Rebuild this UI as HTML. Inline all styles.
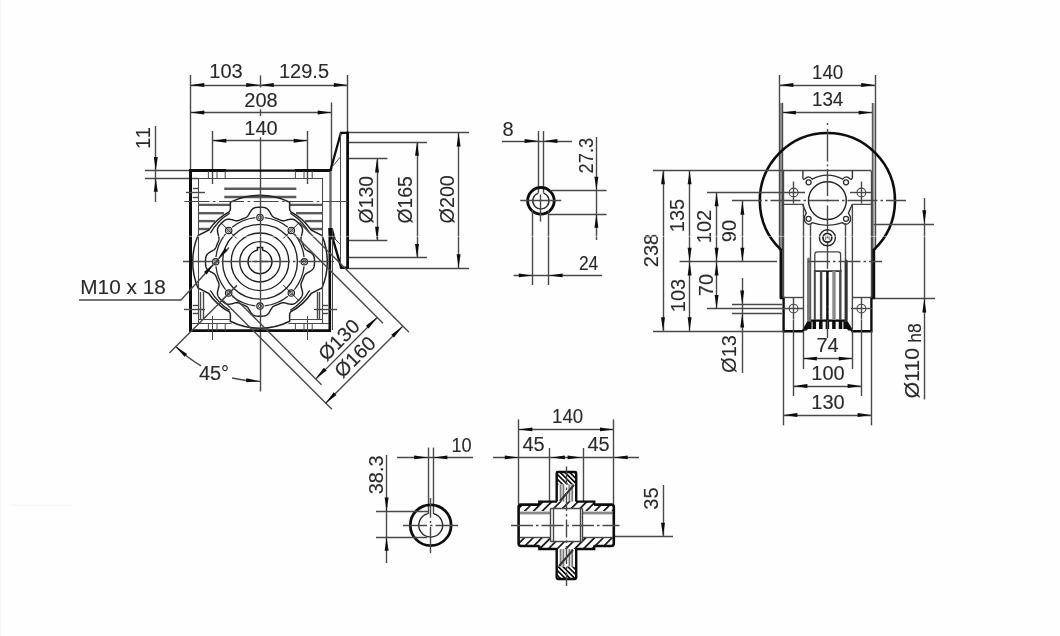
<!DOCTYPE html>
<html><head><meta charset="utf-8"><title>Drawing</title>
<style>
html,body{margin:0;padding:0;background:#fff;}
body{width:1060px;height:636px;overflow:hidden;}
svg{display:block;}
text{font-family:"Liberation Sans",sans-serif;}
</style></head><body>
<svg width="1060" height="636" viewBox="0 0 1060 636">
<defs><filter id="bl" x="0" y="0" width="1060" height="636" filterUnits="userSpaceOnUse"><feGaussianBlur stdDeviation="0.6"/></filter></defs>
<rect width="1060" height="636" fill="#fefefe"/><rect x="0" y="0" width="1" height="636" fill="#f4f4f4"/><rect x="11" y="504.6" width="61" height="1.6" fill="#f7f7f7"/>
<g filter="url(#bl)">
<g id="left">
<line x1="190.50" y1="75.00" x2="190.50" y2="171.00" stroke="#484848" stroke-width="1.4" />
<line x1="347.50" y1="75.00" x2="347.50" y2="133.00" stroke="#484848" stroke-width="1.4" />
<line x1="190.50" y1="85.50" x2="347.70" y2="85.50" stroke="#484848" stroke-width="1.4" />
<polygon points="190.50,85.00 204.30,83.05 204.30,86.95" fill="#0d0d0d"/>
<polygon points="260.00,85.00 246.20,86.95 246.20,83.05" fill="#0d0d0d"/>
<polygon points="260.00,85.00 273.80,83.05 273.80,86.95" fill="#0d0d0d"/>
<polygon points="347.70,85.00 333.90,86.95 333.90,83.05" fill="#0d0d0d"/>
<text transform="translate(226.00,78.30) rotate(0)" text-anchor="middle" font-size="20" fill="#2c2c2c" stroke="#2c2c2c" stroke-width="0.12" >103</text>
<text transform="translate(304.00,78.30) rotate(0)" text-anchor="middle" font-size="20" fill="#2c2c2c" stroke="#2c2c2c" stroke-width="0.12" >129.5</text>
<line x1="331.50" y1="102.50" x2="331.50" y2="171.00" stroke="#484848" stroke-width="1.4" />
<line x1="190.50" y1="112.50" x2="331.50" y2="112.50" stroke="#484848" stroke-width="1.4" />
<polygon points="190.50,112.50 204.30,110.55 204.30,114.45" fill="#0d0d0d"/>
<polygon points="331.50,112.50 317.70,114.45 317.70,110.55" fill="#0d0d0d"/>
<text transform="translate(261.00,106.70) rotate(0)" text-anchor="middle" font-size="20" fill="#2c2c2c" stroke="#2c2c2c" stroke-width="0.12" >208</text>
<line x1="212.50" y1="131.00" x2="212.50" y2="184.00" stroke="#484848" stroke-width="1.4" />
<line x1="307.50" y1="131.00" x2="307.50" y2="184.00" stroke="#484848" stroke-width="1.4" />
<line x1="212.50" y1="140.50" x2="307.50" y2="140.50" stroke="#484848" stroke-width="1.4" />
<polygon points="212.50,140.80 226.30,138.85 226.30,142.75" fill="#0d0d0d"/>
<polygon points="307.50,140.80 293.70,142.75 293.70,138.85" fill="#0d0d0d"/>
<text transform="translate(261.00,134.80) rotate(0)" text-anchor="middle" font-size="20" fill="#2c2c2c" stroke="#2c2c2c" stroke-width="0.12" >140</text>
<line x1="145.00" y1="170.50" x2="190.00" y2="170.50" stroke="#484848" stroke-width="1.4" />
<line x1="145.00" y1="178.50" x2="198.00" y2="178.50" stroke="#484848" stroke-width="1.4" />
<line x1="155.50" y1="126.00" x2="155.50" y2="202.00" stroke="#484848" stroke-width="1.4" />
<polygon points="155.80,170.80 153.85,157.00 157.75,157.00" fill="#0d0d0d"/>
<polygon points="155.80,178.00 157.75,191.80 153.85,191.80" fill="#0d0d0d"/>
<text transform="translate(149.60,137.40) rotate(-90)" text-anchor="middle" font-size="20" fill="#2c2c2c" stroke="#2c2c2c" stroke-width="0.12" letter-spacing="1.3">11</text>
<line x1="198.00" y1="204.90" x2="230.50" y2="204.90" stroke="#5a5a5a" stroke-width="2.4" />
<line x1="289.50" y1="204.90" x2="322.40" y2="204.90" stroke="#5a5a5a" stroke-width="2.4" />
<line x1="198.00" y1="213.20" x2="223.90" y2="213.20" stroke="#5a5a5a" stroke-width="2.4" />
<line x1="296.10" y1="213.20" x2="322.40" y2="213.20" stroke="#5a5a5a" stroke-width="2.4" />
<line x1="198.00" y1="221.10" x2="215.19" y2="221.10" stroke="#5a5a5a" stroke-width="2.4" />
<line x1="304.81" y1="221.10" x2="322.40" y2="221.10" stroke="#5a5a5a" stroke-width="2.4" />
<line x1="198.00" y1="229.00" x2="209.13" y2="229.00" stroke="#5a5a5a" stroke-width="2.4" />
<line x1="310.87" y1="229.00" x2="322.40" y2="229.00" stroke="#5a5a5a" stroke-width="2.4" />
<line x1="224.30" y1="188.70" x2="296.30" y2="188.70" stroke="#5a5a5a" stroke-width="2.5" />
<line x1="224.30" y1="196.90" x2="296.30" y2="196.90" stroke="#5a5a5a" stroke-width="2.5" />
<path d="M260.00,195.25 A66.5,66.5 0 0 0 230.30,202.25 L230.40,207.75 Q230.60,210.25 229.40,211.55 A59.5,59.5 0 0 0 208.60,230.25 L198.00,235.55 A67.3,67.3 0 0 0 192.70,261.75 M260.00,195.25 A66.5,66.5 0 0 1 289.70,202.25 L289.60,207.75 Q289.40,210.25 290.60,211.55 A59.5,59.5 0 0 1 311.40,230.25 L322.00,235.55 A67.3,67.3 0 0 1 327.30,261.75 M260.00,328.25 A66.5,66.5 0 0 1 230.30,321.25 L230.40,315.75 Q230.60,313.25 229.40,311.95 A59.5,59.5 0 0 1 208.60,293.25 L198.00,287.95 A67.3,67.3 0 0 1 192.70,261.75 M260.00,328.25 A66.5,66.5 0 0 0 289.70,321.25 L289.60,315.75 Q289.40,313.25 290.60,311.95 A59.5,59.5 0 0 0 311.40,293.25 L322.00,287.95 A67.3,67.3 0 0 0 327.30,261.75 " stroke="#222" stroke-width="1.5" fill="none" />
<path d="M229.64,213.16 A57.3,57.3 0 0 0 210.38,233.10 M290.36,213.16 A57.3,57.3 0 0 1 309.62,233.10 M229.64,310.34 A57.3,57.3 0 0 1 210.38,290.40 M290.36,310.34 A57.3,57.3 0 0 0 309.62,290.40 " stroke="#2a2a2a" stroke-width="1.3" fill="none" />
<path d="M260.00,207.25 L259.52,207.25 L259.05,207.26 L258.57,207.27 L258.10,207.29 L257.62,207.31 L257.15,207.35 L256.68,207.40 L256.20,207.47 L255.73,207.55 L255.27,207.66 L254.81,207.80 L254.35,207.97 L253.90,208.17 L253.45,208.42 L253.02,208.70 L252.59,209.03 L252.18,209.41 L251.78,209.83 L251.39,210.29 L251.01,210.79 L250.65,211.32 L250.31,211.88 L249.97,212.45 L249.64,213.03 L249.33,213.60 L249.01,214.16 L248.70,214.68 L248.39,215.18 L248.07,215.63 L247.75,216.03 L247.42,216.39 L247.08,216.71 L246.74,216.98 L246.38,217.22 L246.02,217.43 L245.66,217.61 L245.29,217.78 L244.91,217.94 L244.54,218.08 L244.16,218.23 L243.78,218.38 L243.41,218.52 L243.03,218.67 L242.66,218.82 L242.28,218.97 L241.91,219.13 L241.54,219.29 L241.17,219.45 L240.80,219.61 L240.43,219.78 L240.06,219.94 L239.69,220.10 L239.31,220.25 L238.93,220.40 L238.54,220.53 L238.14,220.63 L237.72,220.71 L237.28,220.77 L236.82,220.78 L236.33,220.76 L235.82,220.70 L235.28,220.61 L234.71,220.48 L234.12,220.33 L233.50,220.16 L232.87,219.98 L232.23,219.80 L231.59,219.63 L230.95,219.49 L230.32,219.36 L229.70,219.27 L229.10,219.22 L228.52,219.21 L227.96,219.24 L227.43,219.30 L226.92,219.41 L226.43,219.55 L225.97,219.73 L225.53,219.93 L225.10,220.16 L224.69,220.41 L224.30,220.68 L223.92,220.97 L223.55,221.27 L223.19,221.58 L222.83,221.90 L222.49,222.22 L222.14,222.55 L221.80,222.88 L221.46,223.21 L221.13,223.55 L220.80,223.89 L220.47,224.24 L220.15,224.58 L219.83,224.94 L219.52,225.30 L219.22,225.67 L218.93,226.05 L218.66,226.44 L218.41,226.85 L218.18,227.28 L217.98,227.72 L217.80,228.18 L217.66,228.67 L217.55,229.18 L217.49,229.71 L217.46,230.27 L217.47,230.85 L217.52,231.45 L217.61,232.07 L217.74,232.70 L217.88,233.34 L218.05,233.98 L218.23,234.62 L218.41,235.25 L218.58,235.87 L218.73,236.46 L218.86,237.03 L218.95,237.57 L219.01,238.08 L219.03,238.57 L219.02,239.03 L218.96,239.47 L218.88,239.89 L218.78,240.29 L218.65,240.68 L218.50,241.06 L218.35,241.44 L218.19,241.81 L218.03,242.18 L217.86,242.55 L217.70,242.92 L217.54,243.29 L217.38,243.66 L217.22,244.03 L217.07,244.41 L216.92,244.78 L216.77,245.16 L216.63,245.53 L216.48,245.91 L216.33,246.29 L216.19,246.66 L216.03,247.04 L215.86,247.41 L215.68,247.77 L215.47,248.13 L215.23,248.49 L214.96,248.83 L214.64,249.17 L214.28,249.50 L213.88,249.82 L213.43,250.14 L212.93,250.45 L212.41,250.76 L211.85,251.08 L211.28,251.39 L210.70,251.72 L210.13,252.06 L209.57,252.40 L209.04,252.76 L208.54,253.14 L208.08,253.53 L207.66,253.93 L207.28,254.34 L206.95,254.77 L206.67,255.20 L206.42,255.65 L206.22,256.10 L206.05,256.56 L205.91,257.02 L205.80,257.48 L205.72,257.95 L205.65,258.43 L205.60,258.90 L205.56,259.37 L205.54,259.85 L205.52,260.32 L205.51,260.80 L205.50,261.27 L205.50,261.75 L205.50,262.23 L205.51,262.70 L205.52,263.18 L205.54,263.65 L205.56,264.13 L205.60,264.60 L205.65,265.07 L205.72,265.55 L205.80,266.02 L205.91,266.48 L206.05,266.94 L206.22,267.40 L206.42,267.85 L206.67,268.30 L206.95,268.73 L207.28,269.16 L207.66,269.57 L208.08,269.97 L208.54,270.36 L209.04,270.74 L209.57,271.10 L210.13,271.44 L210.70,271.78 L211.28,272.11 L211.85,272.42 L212.41,272.74 L212.93,273.05 L213.43,273.36 L213.88,273.68 L214.28,274.00 L214.64,274.33 L214.96,274.67 L215.23,275.01 L215.47,275.37 L215.68,275.73 L215.86,276.09 L216.03,276.46 L216.19,276.84 L216.33,277.21 L216.48,277.59 L216.63,277.97 L216.77,278.34 L216.92,278.72 L217.07,279.09 L217.22,279.47 L217.38,279.84 L217.54,280.21 L217.70,280.58 L217.86,280.95 L218.03,281.32 L218.19,281.69 L218.35,282.06 L218.50,282.44 L218.65,282.82 L218.78,283.21 L218.88,283.61 L218.96,284.03 L219.02,284.47 L219.03,284.93 L219.01,285.42 L218.95,285.93 L218.86,286.47 L218.73,287.04 L218.58,287.63 L218.41,288.25 L218.23,288.88 L218.05,289.52 L217.88,290.16 L217.74,290.80 L217.61,291.43 L217.52,292.05 L217.47,292.65 L217.46,293.23 L217.49,293.79 L217.55,294.32 L217.66,294.83 L217.80,295.32 L217.98,295.78 L218.18,296.22 L218.41,296.65 L218.66,297.06 L218.93,297.45 L219.22,297.83 L219.52,298.20 L219.83,298.56 L220.15,298.92 L220.47,299.26 L220.80,299.61 L221.13,299.95 L221.46,300.29 L221.80,300.62 L222.14,300.95 L222.49,301.28 L222.83,301.60 L223.19,301.92 L223.55,302.23 L223.92,302.53 L224.30,302.82 L224.69,303.09 L225.10,303.34 L225.53,303.57 L225.97,303.77 L226.43,303.95 L226.92,304.09 L227.43,304.20 L227.96,304.26 L228.52,304.29 L229.10,304.28 L229.70,304.23 L230.32,304.14 L230.95,304.01 L231.59,303.87 L232.23,303.70 L232.87,303.52 L233.50,303.34 L234.12,303.17 L234.71,303.02 L235.28,302.89 L235.82,302.80 L236.33,302.74 L236.82,302.72 L237.28,302.73 L237.72,302.79 L238.14,302.87 L238.54,302.97 L238.93,303.10 L239.31,303.25 L239.69,303.40 L240.06,303.56 L240.43,303.72 L240.80,303.89 L241.17,304.05 L241.54,304.21 L241.91,304.37 L242.28,304.53 L242.66,304.68 L243.03,304.83 L243.41,304.98 L243.78,305.12 L244.16,305.27 L244.54,305.42 L244.91,305.56 L245.29,305.72 L245.66,305.89 L246.02,306.07 L246.38,306.28 L246.74,306.52 L247.08,306.79 L247.42,307.11 L247.75,307.47 L248.07,307.87 L248.39,308.32 L248.70,308.82 L249.01,309.34 L249.33,309.90 L249.64,310.47 L249.97,311.05 L250.31,311.62 L250.65,312.18 L251.01,312.71 L251.39,313.21 L251.78,313.67 L252.18,314.09 L252.59,314.47 L253.02,314.80 L253.45,315.08 L253.90,315.33 L254.35,315.53 L254.81,315.70 L255.27,315.84 L255.73,315.95 L256.20,316.03 L256.68,316.10 L257.15,316.15 L257.62,316.19 L258.10,316.21 L258.57,316.23 L259.05,316.24 L259.52,316.25 L260.00,316.25 L260.48,316.25 L260.95,316.24 L261.43,316.23 L261.90,316.21 L262.38,316.19 L262.85,316.15 L263.32,316.10 L263.80,316.03 L264.27,315.95 L264.73,315.84 L265.19,315.70 L265.65,315.53 L266.10,315.33 L266.55,315.08 L266.98,314.80 L267.41,314.47 L267.82,314.09 L268.22,313.67 L268.61,313.21 L268.99,312.71 L269.35,312.18 L269.69,311.62 L270.03,311.05 L270.36,310.47 L270.67,309.90 L270.99,309.34 L271.30,308.82 L271.61,308.32 L271.93,307.87 L272.25,307.47 L272.58,307.11 L272.92,306.79 L273.26,306.52 L273.62,306.28 L273.98,306.07 L274.34,305.89 L274.71,305.72 L275.09,305.56 L275.46,305.42 L275.84,305.27 L276.22,305.12 L276.59,304.98 L276.97,304.83 L277.34,304.68 L277.72,304.53 L278.09,304.37 L278.46,304.21 L278.83,304.05 L279.20,303.89 L279.57,303.72 L279.94,303.56 L280.31,303.40 L280.69,303.25 L281.07,303.10 L281.46,302.97 L281.86,302.87 L282.28,302.79 L282.72,302.73 L283.18,302.72 L283.67,302.74 L284.18,302.80 L284.72,302.89 L285.29,303.02 L285.88,303.17 L286.50,303.34 L287.13,303.52 L287.77,303.70 L288.41,303.87 L289.05,304.01 L289.68,304.14 L290.30,304.23 L290.90,304.28 L291.48,304.29 L292.04,304.26 L292.57,304.20 L293.08,304.09 L293.57,303.95 L294.03,303.77 L294.47,303.57 L294.90,303.34 L295.31,303.09 L295.70,302.82 L296.08,302.53 L296.45,302.23 L296.81,301.92 L297.17,301.60 L297.51,301.28 L297.86,300.95 L298.20,300.62 L298.54,300.29 L298.87,299.95 L299.20,299.61 L299.53,299.26 L299.85,298.92 L300.17,298.56 L300.48,298.20 L300.78,297.83 L301.07,297.45 L301.34,297.06 L301.59,296.65 L301.82,296.22 L302.02,295.78 L302.20,295.32 L302.34,294.83 L302.45,294.32 L302.51,293.79 L302.54,293.23 L302.53,292.65 L302.48,292.05 L302.39,291.43 L302.26,290.80 L302.12,290.16 L301.95,289.52 L301.77,288.88 L301.59,288.25 L301.42,287.63 L301.27,287.04 L301.14,286.47 L301.05,285.93 L300.99,285.42 L300.97,284.93 L300.98,284.47 L301.04,284.03 L301.12,283.61 L301.22,283.21 L301.35,282.82 L301.50,282.44 L301.65,282.06 L301.81,281.69 L301.97,281.32 L302.14,280.95 L302.30,280.58 L302.46,280.21 L302.62,279.84 L302.78,279.47 L302.93,279.09 L303.08,278.72 L303.23,278.34 L303.37,277.97 L303.52,277.59 L303.67,277.21 L303.81,276.84 L303.97,276.46 L304.14,276.09 L304.32,275.73 L304.53,275.37 L304.77,275.01 L305.04,274.67 L305.36,274.33 L305.72,274.00 L306.12,273.68 L306.57,273.36 L307.07,273.05 L307.59,272.74 L308.15,272.42 L308.72,272.11 L309.30,271.78 L309.87,271.44 L310.43,271.10 L310.96,270.74 L311.46,270.36 L311.92,269.97 L312.34,269.57 L312.72,269.16 L313.05,268.73 L313.33,268.30 L313.58,267.85 L313.78,267.40 L313.95,266.94 L314.09,266.48 L314.20,266.02 L314.28,265.55 L314.35,265.07 L314.40,264.60 L314.44,264.13 L314.46,263.65 L314.48,263.18 L314.49,262.70 L314.50,262.23 L314.50,261.75 L314.50,261.27 L314.49,260.80 L314.48,260.32 L314.46,259.85 L314.44,259.37 L314.40,258.90 L314.35,258.43 L314.28,257.95 L314.20,257.48 L314.09,257.02 L313.95,256.56 L313.78,256.10 L313.58,255.65 L313.33,255.20 L313.05,254.77 L312.72,254.34 L312.34,253.93 L311.92,253.53 L311.46,253.14 L310.96,252.76 L310.43,252.40 L309.87,252.06 L309.30,251.72 L308.72,251.39 L308.15,251.08 L307.59,250.76 L307.07,250.45 L306.57,250.14 L306.12,249.82 L305.72,249.50 L305.36,249.17 L305.04,248.83 L304.77,248.49 L304.53,248.13 L304.32,247.77 L304.14,247.41 L303.97,247.04 L303.81,246.66 L303.67,246.29 L303.52,245.91 L303.37,245.53 L303.23,245.16 L303.08,244.78 L302.93,244.41 L302.78,244.03 L302.62,243.66 L302.46,243.29 L302.30,242.92 L302.14,242.55 L301.97,242.18 L301.81,241.81 L301.65,241.44 L301.50,241.06 L301.35,240.68 L301.22,240.29 L301.12,239.89 L301.04,239.47 L300.98,239.03 L300.97,238.57 L300.99,238.08 L301.05,237.57 L301.14,237.03 L301.27,236.46 L301.42,235.87 L301.59,235.25 L301.77,234.62 L301.95,233.98 L302.12,233.34 L302.26,232.70 L302.39,232.07 L302.48,231.45 L302.53,230.85 L302.54,230.27 L302.51,229.71 L302.45,229.18 L302.34,228.67 L302.20,228.18 L302.02,227.72 L301.82,227.28 L301.59,226.85 L301.34,226.44 L301.07,226.05 L300.78,225.67 L300.48,225.30 L300.17,224.94 L299.85,224.58 L299.53,224.24 L299.20,223.89 L298.87,223.55 L298.54,223.21 L298.20,222.88 L297.86,222.55 L297.51,222.22 L297.17,221.90 L296.81,221.58 L296.45,221.27 L296.08,220.97 L295.70,220.68 L295.31,220.41 L294.90,220.16 L294.47,219.93 L294.03,219.73 L293.57,219.55 L293.08,219.41 L292.57,219.30 L292.04,219.24 L291.48,219.21 L290.90,219.22 L290.30,219.27 L289.68,219.36 L289.05,219.49 L288.41,219.63 L287.77,219.80 L287.13,219.98 L286.50,220.16 L285.88,220.33 L285.29,220.48 L284.72,220.61 L284.18,220.70 L283.67,220.76 L283.18,220.78 L282.72,220.77 L282.28,220.71 L281.86,220.63 L281.46,220.53 L281.07,220.40 L280.69,220.25 L280.31,220.10 L279.94,219.94 L279.57,219.78 L279.20,219.61 L278.83,219.45 L278.46,219.29 L278.09,219.13 L277.72,218.97 L277.34,218.82 L276.97,218.67 L276.59,218.52 L276.22,218.38 L275.84,218.23 L275.46,218.08 L275.09,217.94 L274.71,217.78 L274.34,217.61 L273.98,217.43 L273.62,217.22 L273.26,216.98 L272.92,216.71 L272.58,216.39 L272.25,216.03 L271.93,215.63 L271.61,215.18 L271.30,214.68 L270.99,214.16 L270.67,213.60 L270.36,213.03 L270.03,212.45 L269.69,211.88 L269.35,211.32 L268.99,210.79 L268.61,210.29 L268.22,209.83 L267.82,209.41 L267.41,209.03 L266.98,208.70 L266.55,208.42 L266.10,208.17 L265.65,207.97 L265.19,207.80 L264.73,207.66 L264.27,207.55 L263.80,207.47 L263.32,207.40 L262.85,207.35 L262.38,207.31 L261.90,207.29 L261.43,207.27 L260.95,207.26 L260.48,207.25 L260.00,207.25Z" stroke="#222" stroke-width="1.45" fill="none" />
<circle cx="260.00" cy="261.75" r="37.40" stroke="#222" stroke-width="1.35" fill="none" />
<circle cx="260.00" cy="261.75" r="28.80" stroke="#222" stroke-width="1.35" fill="none" />
<circle cx="260.00" cy="261.75" r="20.20" stroke="#222" stroke-width="1.35" fill="none" />
<path d="M255.37,217.69 A44.3,44.3 0 0 0 232.12,227.32" stroke="#2a2a2a" stroke-width="1.25" fill="none" />
<path d="M225.57,233.87 A44.3,44.3 0 0 0 215.94,257.12" stroke="#2a2a2a" stroke-width="1.25" fill="none" />
<path d="M215.94,266.38 A44.3,44.3 0 0 0 225.57,289.63" stroke="#2a2a2a" stroke-width="1.25" fill="none" />
<path d="M232.12,296.18 A44.3,44.3 0 0 0 255.37,305.81" stroke="#2a2a2a" stroke-width="1.25" fill="none" />
<path d="M264.63,305.81 A44.3,44.3 0 0 0 287.88,296.18" stroke="#2a2a2a" stroke-width="1.25" fill="none" />
<path d="M294.43,289.63 A44.3,44.3 0 0 0 304.06,266.38" stroke="#2a2a2a" stroke-width="1.25" fill="none" />
<path d="M304.06,257.12 A44.3,44.3 0 0 0 294.43,233.87" stroke="#2a2a2a" stroke-width="1.25" fill="none" />
<path d="M287.88,227.32 A44.3,44.3 0 0 0 264.63,217.69" stroke="#2a2a2a" stroke-width="1.25" fill="none" />
<path d="M262.60,250.14 A11.9,11.9 0 1 1 257.40,250.14 V247.45 H262.60 Z" stroke="#1a1a1a" stroke-width="1.5" fill="none" />
<circle cx="260.00" cy="217.45" r="3.20" stroke="#222" stroke-width="1.2" fill="#fff" />
<circle cx="260.00" cy="217.45" r="1.70" stroke="#333" stroke-width="0.9" fill="none" />
<circle cx="228.68" cy="230.43" r="3.20" stroke="#222" stroke-width="1.2" fill="#fff" />
<circle cx="228.68" cy="230.43" r="1.70" stroke="#333" stroke-width="0.9" fill="none" />
<line x1="220.76" y1="222.51" x2="236.67" y2="238.42" stroke="#222" stroke-width="1.0" />
<circle cx="215.70" cy="261.75" r="3.20" stroke="#222" stroke-width="1.2" fill="#fff" />
<circle cx="215.70" cy="261.75" r="1.70" stroke="#333" stroke-width="0.9" fill="none" />
<circle cx="228.68" cy="293.07" r="3.20" stroke="#222" stroke-width="1.2" fill="#fff" />
<circle cx="228.68" cy="293.07" r="1.70" stroke="#333" stroke-width="0.9" fill="none" />
<line x1="220.76" y1="300.99" x2="236.67" y2="285.08" stroke="#222" stroke-width="1.0" />
<circle cx="260.00" cy="306.05" r="3.20" stroke="#222" stroke-width="1.2" fill="#fff" />
<circle cx="260.00" cy="306.05" r="1.70" stroke="#333" stroke-width="0.9" fill="none" />
<circle cx="291.32" cy="293.07" r="3.20" stroke="#222" stroke-width="1.2" fill="#fff" />
<circle cx="291.32" cy="293.07" r="1.70" stroke="#333" stroke-width="0.9" fill="none" />
<line x1="299.24" y1="300.99" x2="283.33" y2="285.08" stroke="#222" stroke-width="1.0" />
<circle cx="304.30" cy="261.75" r="3.20" stroke="#222" stroke-width="1.2" fill="#fff" />
<circle cx="304.30" cy="261.75" r="1.70" stroke="#333" stroke-width="0.9" fill="none" />
<circle cx="291.32" cy="230.43" r="3.20" stroke="#222" stroke-width="1.2" fill="#fff" />
<circle cx="291.32" cy="230.43" r="1.70" stroke="#333" stroke-width="0.9" fill="none" />
<line x1="299.24" y1="222.51" x2="283.33" y2="238.42" stroke="#222" stroke-width="1.0" />
<line x1="260.50" y1="75.40" x2="260.50" y2="87.50" stroke="#484848" stroke-width="1.4" />
<line x1="260.50" y1="109.30" x2="260.50" y2="116.00" stroke="#484848" stroke-width="1.4" />
<line x1="260.50" y1="137.30" x2="260.50" y2="391.50" stroke="#484848" stroke-width="1.4" />
<line x1="183.00" y1="261.50" x2="337.00" y2="261.50" stroke="#484848" stroke-width="1.4" stroke-dasharray="30 3 2.5 3"/>
<line x1="252.00" y1="261.50" x2="268.00" y2="261.50" stroke="#484848" stroke-width="1.4" />
<line x1="260.50" y1="252.75" x2="260.50" y2="270.75" stroke="#484848" stroke-width="1.4" />
<path d="M190.5,331.6 V170.6 H226" stroke="#0d0d0d" stroke-width="3.0" fill="none" stroke-linejoin="miter"/>
<path d="M225,170.6 H330.4 L340.9,132.8 H348.6" stroke="#0d0d0d" stroke-width="2.3" fill="none" stroke-linejoin="miter"/>
<path d="M295,170.4 H330" stroke="#0d0d0d" stroke-width="3.0" fill="none" />
<path d="M347.6,131.7 V269" stroke="#0d0d0d" stroke-width="2.8" fill="none" />
<path d="M189.2,330.6 H329.8 V228" stroke="#0d0d0d" stroke-width="2.6" fill="none" />
<path d="M330.5,171.5 V229" stroke="#6a6a6a" stroke-width="2.4" fill="none" />
<path d="M330,229 L341.2,267.8 H349" stroke="#0d0d0d" stroke-width="2.4" fill="none" />
<path d="M328.3,228 L332.8,228 L335.8,239.5 L329.3,239.5 Z" stroke="#484848" stroke-width="0" fill="#0d0d0d" />
<line x1="340.50" y1="133.00" x2="340.50" y2="264.00" stroke="#484848" stroke-width="1" />
<line x1="340.20" y1="157.20" x2="331.60" y2="167.50" stroke="#484848" stroke-width="1" />
<line x1="332.80" y1="236.60" x2="340.20" y2="244.40" stroke="#484848" stroke-width="1" />
<line x1="332.50" y1="228.00" x2="332.50" y2="330.00" stroke="#484848" stroke-width="1" />
<path d="M198.5,323.5 V178.5 H322.5 V323.5" stroke="#484848" stroke-width="1.1" fill="none" />
<line x1="192.00" y1="323.50" x2="231.50" y2="323.50" stroke="#484848" stroke-width="1" />
<line x1="288.50" y1="323.50" x2="329.00" y2="323.50" stroke="#484848" stroke-width="1" />
<line x1="198.00" y1="319.50" x2="230.50" y2="319.50" stroke="#484848" stroke-width="1" />
<line x1="289.50" y1="319.50" x2="322.40" y2="319.50" stroke="#484848" stroke-width="1" />
<path d="M208.4,171 V178 M225.20000000000002,171 V178 M217.0,171 V178" stroke="#484848" stroke-width="1" fill="none" />
<path d="M208.4,331 V323.5 M225.20000000000002,331 V323.5 M217.0,331 V323.5" stroke="#484848" stroke-width="1" fill="none" />
<line x1="212.50" y1="316.00" x2="212.50" y2="340.00" stroke="#484848" stroke-width="1" />
<path d="M295.4,171 V178 M312.2,171 V178 M304.0,171 V178" stroke="#484848" stroke-width="1" fill="none" />
<path d="M295.4,331 V323.5 M312.2,331 V323.5 M304.0,331 V323.5" stroke="#484848" stroke-width="1" fill="none" />
<line x1="307.50" y1="316.00" x2="307.50" y2="340.00" stroke="#484848" stroke-width="1" />
<line x1="192.80" y1="188.50" x2="198.00" y2="188.50" stroke="#484848" stroke-width="1.4" />
<line x1="192.80" y1="197.50" x2="198.00" y2="197.50" stroke="#484848" stroke-width="1.4" />
<line x1="186.00" y1="192.50" x2="205.00" y2="192.50" stroke="#484848" stroke-width="1.4" />
<line x1="192.80" y1="305.50" x2="198.00" y2="305.50" stroke="#484848" stroke-width="1.4" />
<line x1="192.80" y1="313.50" x2="198.00" y2="313.50" stroke="#484848" stroke-width="1.4" />
<line x1="184.00" y1="309.50" x2="205.00" y2="309.50" stroke="#484848" stroke-width="1.4" />
<line x1="322.40" y1="305.50" x2="328.00" y2="305.50" stroke="#484848" stroke-width="1.4" />
<line x1="322.40" y1="313.50" x2="328.00" y2="313.50" stroke="#484848" stroke-width="1.4" />
<line x1="314.00" y1="309.50" x2="337.00" y2="309.50" stroke="#484848" stroke-width="1.4" />
<line x1="200.50" y1="292.00" x2="200.50" y2="320.00" stroke="#484848" stroke-width="1.4" />
<line x1="203.50" y1="292.00" x2="203.50" y2="320.00" stroke="#484848" stroke-width="1.4" />
<line x1="319.50" y1="292.00" x2="319.50" y2="320.00" stroke="#484848" stroke-width="1.4" />
<line x1="317.50" y1="292.00" x2="317.50" y2="320.00" stroke="#484848" stroke-width="1.4" />
<line x1="184.40" y1="201.50" x2="349.00" y2="201.50" stroke="#484848" stroke-width="1" stroke-dasharray="25 3.5 2.6 3.5"/>
<line x1="349.00" y1="132.50" x2="469.00" y2="132.50" stroke="#484848" stroke-width="1.4" />
<line x1="349.00" y1="268.50" x2="469.00" y2="268.50" stroke="#484848" stroke-width="1.4" />
<line x1="458.50" y1="132.70" x2="458.50" y2="268.00" stroke="#484848" stroke-width="1.4" />
<polygon points="458.60,132.70 460.55,146.50 456.65,146.50" fill="#0d0d0d"/>
<polygon points="458.60,268.00 456.65,254.20 460.55,254.20" fill="#0d0d0d"/>
<line x1="349.00" y1="142.50" x2="427.00" y2="142.50" stroke="#484848" stroke-width="1.4" />
<line x1="349.00" y1="257.50" x2="427.00" y2="257.50" stroke="#484848" stroke-width="1.4" />
<line x1="417.50" y1="142.00" x2="417.50" y2="257.80" stroke="#484848" stroke-width="1.4" />
<polygon points="417.00,142.00 418.95,155.80 415.05,155.80" fill="#0d0d0d"/>
<polygon points="417.00,257.80 415.05,244.00 418.95,244.00" fill="#0d0d0d"/>
<line x1="349.00" y1="158.50" x2="387.40" y2="158.50" stroke="#484848" stroke-width="1.4" />
<line x1="349.00" y1="240.50" x2="387.40" y2="240.50" stroke="#484848" stroke-width="1.4" />
<line x1="377.50" y1="158.60" x2="377.50" y2="240.60" stroke="#484848" stroke-width="1.4" />
<polygon points="377.00,158.60 378.95,172.40 375.05,172.40" fill="#0d0d0d"/>
<polygon points="377.00,240.60 375.05,226.80 378.95,226.80" fill="#0d0d0d"/>
<text transform="translate(373.30,199.60) rotate(-90)" text-anchor="middle" font-size="20" fill="#2c2c2c" stroke="#2c2c2c" stroke-width="0.12" textLength="47.6" lengthAdjust="spacingAndGlyphs" >Ø130</text>
<text transform="translate(411.80,199.90) rotate(-90)" text-anchor="middle" font-size="20" fill="#2c2c2c" stroke="#2c2c2c" stroke-width="0.12" textLength="47.2" lengthAdjust="spacingAndGlyphs" >Ø165</text>
<text transform="translate(454.00,199.30) rotate(-90)" text-anchor="middle" font-size="20" fill="#2c2c2c" stroke="#2c2c2c" stroke-width="0.12" textLength="48.2" lengthAdjust="spacingAndGlyphs" >Ø200</text>
<g transform="translate(260.0,261.75) rotate(-45)">
<line x1="43.50" y1="4.00" x2="43.50" y2="130.50" stroke="#484848" stroke-width="1.4" />
<line x1="55.50" y1="0.50" x2="55.50" y2="155.20" stroke="#484848" stroke-width="1.4" />
<line x1="-43.50" y1="4.00" x2="-43.50" y2="130.50" stroke="#484848" stroke-width="1.4" />
<line x1="-53.50" y1="1.20" x2="-53.50" y2="155.20" stroke="#484848" stroke-width="1.4" />
<line x1="-43.50" y1="122.50" x2="43.50" y2="122.50" stroke="#484848" stroke-width="1.4" />
<polygon points="-43.50,122.00 -29.70,120.05 -29.70,123.95" fill="#0d0d0d"/>
<polygon points="43.50,122.00 29.70,123.95 29.70,120.05" fill="#0d0d0d"/>
<line x1="-54.00" y1="146.50" x2="55.00" y2="146.50" stroke="#484848" stroke-width="1.4" />
<polygon points="-54.00,146.40 -40.20,144.45 -40.20,148.35" fill="#0d0d0d"/>
<polygon points="55.00,146.40 41.20,148.35 41.20,144.45" fill="#0d0d0d"/>
<text transform="translate(0.60,117.90) rotate(0)" text-anchor="middle" font-size="20" fill="#2c2c2c" stroke="#2c2c2c" stroke-width="0.12" >Ø130</text>
<text transform="translate(-0.20,141.30) rotate(0)" text-anchor="middle" font-size="20" fill="#2c2c2c" stroke="#2c2c2c" stroke-width="0.12" >Ø160</text>
<line x1="-33.00" y1="0.50" x2="-128.70" y2="0.50" stroke="#484848" stroke-width="1.4" />
</g>
<path d="M175.43,346.32 A119.6,119.6 0 0 0 201.11,365.84" stroke="#484848" stroke-width="1.4" fill="none" />
<path d="M232.08,378.05 A119.6,119.6 0 0 0 260.00,381.35" stroke="#484848" stroke-width="1.4" fill="none" />
<polygon points="175.43,346.32 187.12,353.90 184.57,356.85" fill="#0d0d0d"/>
<polygon points="260.00,381.35 246.09,382.21 246.40,378.32" fill="#0d0d0d"/>
<text transform="translate(214.00,380.00) rotate(0)" text-anchor="middle" font-size="20" fill="#2c2c2c" stroke="#2c2c2c" stroke-width="0.12" >45°</text>
<text transform="translate(123.00,293.60) rotate(0)" text-anchor="middle" font-size="20" fill="#2c2c2c" stroke="#2c2c2c" stroke-width="0.12" textLength="85.5" lengthAdjust="spacingAndGlyphs" >M10 x 18</text>
<path d="M79,300 H181 L229,247.5" stroke="#484848" stroke-width="1.4" fill="none" />
<polygon points="218.00,258.70 224.88,248.11 227.59,250.48" fill="#0d0d0d"/>
<polygon points="213.60,263.90 206.72,274.49 204.01,272.12" fill="#0d0d0d"/>
</g>
<g id="key1">
<line x1="538.50" y1="131.00" x2="538.50" y2="192.80" stroke="#484848" stroke-width="1.4" />
<line x1="543.50" y1="131.00" x2="543.50" y2="192.80" stroke="#484848" stroke-width="1.4" />
<line x1="502.00" y1="141.50" x2="572.00" y2="141.50" stroke="#484848" stroke-width="1.4" />
<polygon points="538.40,141.00 524.60,142.95 524.60,139.05" fill="#0d0d0d"/>
<polygon points="543.60,141.00 557.40,139.05 557.40,142.95" fill="#0d0d0d"/>
<text transform="translate(508.00,136.00) rotate(0)" text-anchor="middle" font-size="20" fill="#2c2c2c" stroke="#2c2c2c" stroke-width="0.12" >8</text>
<circle cx="540.90" cy="200.80" r="13.30" stroke="#0d0d0d" stroke-width="2.8" fill="none" />
<path d="M543.55,193.15 A8.1,8.1 0 1 1 538.25,193.15" stroke="#2a2a2a" stroke-width="1.4" fill="none" />
<line x1="520.30" y1="200.50" x2="561.20" y2="200.50" stroke="#484848" stroke-width="1.4" />
<line x1="540.50" y1="194.50" x2="540.50" y2="221.60" stroke="#484848" stroke-width="1.4" />
<line x1="550.00" y1="190.50" x2="606.60" y2="190.50" stroke="#484848" stroke-width="1.4" />
<line x1="549.00" y1="214.50" x2="606.60" y2="214.50" stroke="#484848" stroke-width="1.4" />
<line x1="596.50" y1="137.00" x2="596.50" y2="240.00" stroke="#484848" stroke-width="1.4" />
<polygon points="596.40,190.60 594.45,176.80 598.35,176.80" fill="#0d0d0d"/>
<polygon points="596.40,214.00 598.35,227.80 594.45,227.80" fill="#0d0d0d"/>
<text transform="translate(593.00,155.60) rotate(-90)" text-anchor="middle" font-size="20" fill="#2c2c2c" stroke="#2c2c2c" stroke-width="0.12" textLength="35.6" lengthAdjust="spacingAndGlyphs" >27.3</text>
<line x1="532.50" y1="210.00" x2="532.50" y2="285.00" stroke="#484848" stroke-width="1.4" />
<line x1="548.50" y1="210.00" x2="548.50" y2="285.00" stroke="#484848" stroke-width="1.4" />
<line x1="513.60" y1="275.50" x2="602.00" y2="275.50" stroke="#484848" stroke-width="1.4" />
<polygon points="532.60,275.40 518.80,277.35 518.80,273.45" fill="#0d0d0d"/>
<polygon points="548.80,275.40 562.60,273.45 562.60,277.35" fill="#0d0d0d"/>
<text transform="translate(588.60,270.00) rotate(0)" text-anchor="middle" font-size="20" fill="#2c2c2c" stroke="#2c2c2c" stroke-width="0.12" textLength="19.4" lengthAdjust="spacingAndGlyphs" >24</text>
</g>
<g id="right">
<line x1="779.50" y1="75.00" x2="779.50" y2="250.00" stroke="#484848" stroke-width="1.4" />
<line x1="875.50" y1="75.00" x2="875.50" y2="250.00" stroke="#484848" stroke-width="1.4" />
<line x1="779.60" y1="85.50" x2="875.00" y2="85.50" stroke="#484848" stroke-width="1.4" />
<polygon points="779.60,85.00 793.40,83.05 793.40,86.95" fill="#0d0d0d"/>
<polygon points="875.00,85.00 861.20,86.95 861.20,83.05" fill="#0d0d0d"/>
<text transform="translate(827.60,78.60) rotate(0)" text-anchor="middle" font-size="20" fill="#2c2c2c" stroke="#2c2c2c" stroke-width="0.12" textLength="31.4" lengthAdjust="spacingAndGlyphs" >140</text>
<line x1="782.50" y1="103.00" x2="782.50" y2="250.00" stroke="#484848" stroke-width="1.4" />
<line x1="872.50" y1="103.00" x2="872.50" y2="250.00" stroke="#484848" stroke-width="1.4" />
<line x1="782.00" y1="112.50" x2="872.40" y2="112.50" stroke="#484848" stroke-width="1.4" />
<polygon points="782.00,112.60 795.80,110.65 795.80,114.55" fill="#0d0d0d"/>
<polygon points="872.40,112.60 858.60,114.55 858.60,110.65" fill="#0d0d0d"/>
<text transform="translate(827.60,106.00) rotate(0)" text-anchor="middle" font-size="20" fill="#2c2c2c" stroke="#2c2c2c" stroke-width="0.12" textLength="31.4" lengthAdjust="spacingAndGlyphs" >134</text>
<line x1="781.00" y1="103.00" x2="781.00" y2="250.00" stroke="#8a8a8a" stroke-width="2.0" />
<line x1="873.70" y1="103.00" x2="873.70" y2="250.00" stroke="#9a9a9a" stroke-width="1.8" />
<path d="M781.10,249.86 A67.6,67.6 0 1 1 873.70,249.86" stroke="#0d0d0d" stroke-width="2.6" fill="none" />
<path d="M781.10,249.36 V298 H783.6 V331.3 H802.6 L809.4,320.4 M845.6,320.4 L852.4,331.3 H871.4 V298 H873.70 V249.36" stroke="#0d0d0d" stroke-width="2.4" fill="none" stroke-linejoin="miter"/>
<path d="M781.10,249.06 V298.5 M873.70,249.06 V298.5" stroke="#0d0d0d" stroke-width="3.0" fill="none" />
<rect x="812.55" y="320" width="3.5" height="9" fill="#0d0d0d"/>
<rect x="819.05" y="320" width="3.5" height="9" fill="#0d0d0d"/>
<rect x="825.65" y="320" width="3.5" height="9" fill="#0d0d0d"/>
<rect x="832.15" y="320" width="3.5" height="9" fill="#0d0d0d"/>
<rect x="838.75" y="320" width="3.5" height="9" fill="#0d0d0d"/>
<polygon points="803.4,330.6 809.6,320 811.6,320 811.6,329 808,329 806.5,330.6" fill="#0d0d0d"/>
<polygon points="851.6,330.6 845.4,320 843.4,320 843.4,329 847,329 848.5,330.6" fill="#0d0d0d"/>
<line x1="809.20" y1="320.60" x2="845.80" y2="320.60" stroke="#0d0d0d" stroke-width="2.2" />
<line x1="653.00" y1="170.50" x2="871.00" y2="170.50" stroke="#484848" stroke-width="1.4" />
<line x1="783.50" y1="170.40" x2="783.50" y2="298.00" stroke="#484848" stroke-width="1.4" />
<line x1="871.50" y1="170.40" x2="871.50" y2="298.00" stroke="#484848" stroke-width="1.4" />
<path d="M802.9,170.5 V177.6 Q802.9,180.2 805,178.7 Q808.6,174.8 812.2,179.1 A33,33 0 0 1 842.6,179.1 Q846.2,174.8 849.8,178.7 Q851.9,180.2 852.4,177.6 V170.5" stroke="#2e2e2e" stroke-width="1.35" fill="none" />
<path d="M802.6,204.4 L806.4,213.2 Q802.6,218.6 805.4,222.4 Q808.6,226.2 812.2,222.7 A45,45 0 0 0 842.6,222.7 Q846.2,226.2 849.4,222.4 Q852.2,218.6 848.4,213.2 L852.2,204.4" stroke="#2e2e2e" stroke-width="1.35" fill="none" />
<circle cx="808.60" cy="182.30" r="2.50" stroke="#2e2e2e" stroke-width="1.3" fill="none" />
<circle cx="846.00" cy="182.30" r="2.50" stroke="#2e2e2e" stroke-width="1.3" fill="none" />
<circle cx="808.60" cy="218.80" r="2.50" stroke="#2e2e2e" stroke-width="1.3" fill="none" />
<circle cx="846.00" cy="218.80" r="2.50" stroke="#2e2e2e" stroke-width="1.3" fill="none" />
<circle cx="827.40" cy="200.60" r="18.90" stroke="#262626" stroke-width="1.45" fill="none" />
<path d="M783.6,204.4 H803.5 V329 M871.2,204.4 H852.4 V329" stroke="#484848" stroke-width="1.4" fill="none" />
<line x1="810.50" y1="223.00" x2="810.50" y2="322.00" stroke="#484848" stroke-width="1.4" />
<line x1="845.50" y1="223.00" x2="845.50" y2="322.00" stroke="#484848" stroke-width="1.4" />
<circle cx="793.60" cy="192.50" r="4.40" stroke="#484848" stroke-width="1.1" fill="none" />
<line x1="793.50" y1="181.50" x2="793.50" y2="203.50" stroke="#484848" stroke-width="1.4" />
<circle cx="861.40" cy="192.50" r="4.40" stroke="#484848" stroke-width="1.1" fill="none" />
<line x1="861.50" y1="181.50" x2="861.50" y2="203.50" stroke="#484848" stroke-width="1.4" />
<circle cx="793.60" cy="308.60" r="4.40" stroke="#484848" stroke-width="1.1" fill="none" />
<line x1="793.50" y1="297.60" x2="793.50" y2="319.60" stroke="#484848" stroke-width="1.4" />
<circle cx="861.40" cy="308.60" r="4.40" stroke="#484848" stroke-width="1.1" fill="none" />
<line x1="861.50" y1="297.60" x2="861.50" y2="319.60" stroke="#484848" stroke-width="1.4" />
<line x1="707.00" y1="192.50" x2="805.00" y2="192.50" stroke="#484848" stroke-width="1.4" />
<line x1="850.00" y1="192.50" x2="872.00" y2="192.50" stroke="#484848" stroke-width="1.4" />
<line x1="707.00" y1="308.50" x2="804.00" y2="308.50" stroke="#484848" stroke-width="1.4" />
<line x1="851.00" y1="308.50" x2="872.00" y2="308.50" stroke="#484848" stroke-width="1.4" />
<line x1="783.60" y1="297.50" x2="803.50" y2="297.50" stroke="#484848" stroke-width="1.4" />
<line x1="852.40" y1="297.50" x2="871.20" y2="297.50" stroke="#484848" stroke-width="1.4" />
<line x1="827.50" y1="123.00" x2="827.50" y2="161.50" stroke="#484848" stroke-width="1.4" stroke-dasharray="2 4 40"/>
<line x1="827.50" y1="164.40" x2="827.50" y2="166.40" stroke="#484848" stroke-width="1.4" />
<line x1="827.50" y1="169.00" x2="827.50" y2="338.00" stroke="#484848" stroke-width="1.4" stroke-dasharray="27 3.4 2 4"/>
<line x1="732.00" y1="200.50" x2="906.00" y2="200.50" stroke="#484848" stroke-width="1.4" stroke-dasharray="30 3 2.5 3"/>
<circle cx="827.40" cy="237.80" r="8.00" stroke="#2a2a2a" stroke-width="1.45" fill="none" />
<circle cx="827.40" cy="237.80" r="4.40" stroke="#222" stroke-width="1.7" fill="none" />
<path d="M825.6,235.6 V240 M829.1999999999999,235.6 V240 M825.6,237.8 H829.1999999999999" stroke="#777" stroke-width="0.9" fill="none" />
<path d="M814.8,271 V254.4 Q814.8,251.9 817.3,251.9 H838.1 Q840.6,251.9 840.6,254.4 V271" stroke="#444" stroke-width="1.3" fill="none" />
<line x1="813.90" y1="271.10" x2="841.50" y2="271.10" stroke="#222" stroke-width="1.6" />
<line x1="814.80" y1="271.00" x2="814.80" y2="320.00" stroke="#484848" stroke-width="2.0" />
<line x1="821.10" y1="271.00" x2="821.10" y2="320.00" stroke="#484848" stroke-width="2.4" />
<line x1="827.40" y1="271.00" x2="827.40" y2="320.00" stroke="#111" stroke-width="2.4" />
<line x1="834.00" y1="271.00" x2="834.00" y2="320.00" stroke="#8a8a8a" stroke-width="3.4" />
<line x1="840.30" y1="271.00" x2="840.30" y2="320.00" stroke="#484848" stroke-width="2.4" />
<path d="M808.8,320 V261 Q808.8,259.2 808.8,259.2" stroke="#777" stroke-width="3.5" fill="none" stroke-linecap="round"/>
<path d="M846.2,320 V261" stroke="#333" stroke-width="3.0" fill="none" stroke-linecap="round"/>
<line x1="679.60" y1="261.50" x2="777.00" y2="261.50" stroke="#484848" stroke-width="1.4" />
<line x1="808.00" y1="261.50" x2="882.00" y2="261.50" stroke="#484848" stroke-width="1.4" stroke-dasharray="22 3 2.5 3"/>
<line x1="663.50" y1="170.40" x2="663.50" y2="331.00" stroke="#484848" stroke-width="1.4" />
<polygon points="663.00,170.40 664.95,184.20 661.05,184.20" fill="#0d0d0d"/>
<polygon points="663.00,331.00 661.05,317.20 664.95,317.20" fill="#0d0d0d"/>
<line x1="653.00" y1="331.50" x2="783.60" y2="331.50" stroke="#484848" stroke-width="1.4" />
<line x1="689.50" y1="170.40" x2="689.50" y2="331.00" stroke="#484848" stroke-width="1.4" />
<polygon points="689.60,170.40 691.55,184.20 687.65,184.20" fill="#0d0d0d"/>
<polygon points="689.60,261.60 687.65,247.80 691.55,247.80" fill="#0d0d0d"/>
<polygon points="689.60,261.60 691.55,275.40 687.65,275.40" fill="#0d0d0d"/>
<polygon points="689.60,331.00 687.65,317.20 691.55,317.20" fill="#0d0d0d"/>
<line x1="716.50" y1="192.50" x2="716.50" y2="308.80" stroke="#484848" stroke-width="1.4" />
<polygon points="716.60,192.50 718.55,206.30 714.65,206.30" fill="#0d0d0d"/>
<polygon points="716.60,261.60 714.65,247.80 718.55,247.80" fill="#0d0d0d"/>
<polygon points="716.60,261.60 718.55,275.40 714.65,275.40" fill="#0d0d0d"/>
<polygon points="716.60,308.80 714.65,295.00 718.55,295.00" fill="#0d0d0d"/>
<line x1="742.50" y1="201.00" x2="742.50" y2="261.60" stroke="#484848" stroke-width="1.4" />
<polygon points="742.40,201.00 744.35,214.80 740.45,214.80" fill="#0d0d0d"/>
<polygon points="742.40,261.60 740.45,247.80 744.35,247.80" fill="#0d0d0d"/>
<text transform="translate(657.60,250.50) rotate(-90)" text-anchor="middle" font-size="20" fill="#2c2c2c" stroke="#2c2c2c" stroke-width="0.12" >238</text>
<text transform="translate(683.60,215.50) rotate(-90)" text-anchor="middle" font-size="20" fill="#2c2c2c" stroke="#2c2c2c" stroke-width="0.12" >135</text>
<text transform="translate(685.00,295.50) rotate(-90)" text-anchor="middle" font-size="20" fill="#2c2c2c" stroke="#2c2c2c" stroke-width="0.12" >103</text>
<text transform="translate(710.50,226.50) rotate(-90)" text-anchor="middle" font-size="20" fill="#2c2c2c" stroke="#2c2c2c" stroke-width="0.12" >102</text>
<text transform="translate(712.50,285.00) rotate(-90)" text-anchor="middle" font-size="20" fill="#2c2c2c" stroke="#2c2c2c" stroke-width="0.12" >70</text>
<text transform="translate(736.40,231.00) rotate(-90)" text-anchor="middle" font-size="20" fill="#2c2c2c" stroke="#2c2c2c" stroke-width="0.12" >90</text>
<line x1="732.00" y1="304.50" x2="782.00" y2="304.50" stroke="#484848" stroke-width="1.4" />
<line x1="732.00" y1="313.50" x2="782.00" y2="313.50" stroke="#484848" stroke-width="1.4" />
<line x1="742.50" y1="278.00" x2="742.50" y2="373.00" stroke="#484848" stroke-width="1.4" />
<polygon points="742.20,304.40 740.25,290.60 744.15,290.60" fill="#0d0d0d"/>
<polygon points="742.20,313.60 744.15,327.40 740.25,327.40" fill="#0d0d0d"/>
<text transform="translate(736.40,354.00) rotate(-90)" text-anchor="middle" font-size="20" fill="#2c2c2c" stroke="#2c2c2c" stroke-width="0.12" >Ø13</text>
<line x1="803.50" y1="331.00" x2="803.50" y2="369.00" stroke="#484848" stroke-width="1.4" />
<line x1="852.50" y1="331.00" x2="852.50" y2="369.00" stroke="#484848" stroke-width="1.4" />
<line x1="803.00" y1="358.50" x2="852.60" y2="358.50" stroke="#484848" stroke-width="1.4" />
<polygon points="803.00,358.60 816.80,356.65 816.80,360.55" fill="#0d0d0d"/>
<polygon points="852.60,358.60 838.80,360.55 838.80,356.65" fill="#0d0d0d"/>
<line x1="793.50" y1="320.00" x2="793.50" y2="396.00" stroke="#484848" stroke-width="1.4" />
<line x1="861.50" y1="320.00" x2="861.50" y2="396.00" stroke="#484848" stroke-width="1.4" />
<line x1="793.60" y1="386.50" x2="861.40" y2="386.50" stroke="#484848" stroke-width="1.4" />
<polygon points="793.60,386.00 807.40,384.05 807.40,387.95" fill="#0d0d0d"/>
<polygon points="861.40,386.00 847.60,387.95 847.60,384.05" fill="#0d0d0d"/>
<line x1="783.50" y1="331.00" x2="783.50" y2="425.40" stroke="#484848" stroke-width="1.4" />
<line x1="871.50" y1="331.00" x2="871.50" y2="425.40" stroke="#484848" stroke-width="1.4" />
<line x1="783.60" y1="415.50" x2="871.40" y2="415.50" stroke="#484848" stroke-width="1.4" />
<polygon points="783.60,415.00 797.40,413.05 797.40,416.95" fill="#0d0d0d"/>
<polygon points="871.40,415.00 857.60,416.95 857.60,413.05" fill="#0d0d0d"/>
<text transform="translate(827.50,351.80) rotate(0)" text-anchor="middle" font-size="20" fill="#2c2c2c" stroke="#2c2c2c" stroke-width="0.12" >74</text>
<text transform="translate(828.00,379.60) rotate(0)" text-anchor="middle" font-size="20" fill="#2c2c2c" stroke="#2c2c2c" stroke-width="0.12" >100</text>
<text transform="translate(828.00,408.90) rotate(0)" text-anchor="middle" font-size="20" fill="#2c2c2c" stroke="#2c2c2c" stroke-width="0.12" >130</text>
<line x1="873.60" y1="224.50" x2="934.00" y2="224.50" stroke="#484848" stroke-width="1.4" />
<line x1="875.00" y1="298.50" x2="935.00" y2="298.50" stroke="#484848" stroke-width="1.4" />
<line x1="924.50" y1="198.00" x2="924.50" y2="399.50" stroke="#484848" stroke-width="1.4" />
<polygon points="924.30,224.00 922.35,210.20 926.25,210.20" fill="#0d0d0d"/>
<polygon points="924.30,298.60 926.25,312.40 922.35,312.40" fill="#0d0d0d"/>
<text transform="translate(919.40,398.60) rotate(-90)" text-anchor="start" font-size="20" fill="#2c2c2c" stroke="#2c2c2c" stroke-width="0.12" textLength="50.6" lengthAdjust="spacingAndGlyphs" >Ø110</text>
<text transform="translate(920.80,342.80) rotate(-90)" text-anchor="start" font-size="17.5" fill="#2c2c2c" stroke="#2c2c2c" stroke-width="0.12" >h8</text>
</g>
<g id="key2">
<line x1="428.50" y1="447.60" x2="428.50" y2="514.00" stroke="#484848" stroke-width="1.4" />
<line x1="433.50" y1="447.60" x2="433.50" y2="514.00" stroke="#484848" stroke-width="1.4" />
<line x1="397.00" y1="457.50" x2="473.00" y2="457.50" stroke="#484848" stroke-width="1.4" />
<polygon points="428.00,457.40 414.20,459.35 414.20,455.45" fill="#0d0d0d"/>
<polygon points="433.60,457.40 447.40,455.45 447.40,459.35" fill="#0d0d0d"/>
<text transform="translate(461.60,452.20) rotate(0)" text-anchor="middle" font-size="20" fill="#2c2c2c" stroke="#2c2c2c" stroke-width="0.12" textLength="20.2" lengthAdjust="spacingAndGlyphs" >10</text>
<circle cx="430.70" cy="525.20" r="20.40" stroke="#0d0d0d" stroke-width="2.75" fill="none" />
<path d="M433.50,513.63 A11.9,11.9 0 1 1 427.90,513.63" stroke="#2a2a2a" stroke-width="1.4" fill="none" />
<line x1="403.00" y1="525.50" x2="458.00" y2="525.50" stroke="#484848" stroke-width="1.4" stroke-dasharray="24 3 2.5 3"/>
<line x1="430.50" y1="498.00" x2="430.50" y2="517.70" stroke="#484848" stroke-width="1.4" />
<line x1="430.50" y1="521.00" x2="430.50" y2="523.00" stroke="#484848" stroke-width="1.4" />
<line x1="430.50" y1="527.00" x2="430.50" y2="553.00" stroke="#484848" stroke-width="1.4" />
<line x1="376.00" y1="511.50" x2="428.00" y2="511.50" stroke="#484848" stroke-width="1.4" />
<line x1="376.00" y1="537.50" x2="427.00" y2="537.50" stroke="#484848" stroke-width="1.4" />
<line x1="386.50" y1="455.00" x2="386.50" y2="563.00" stroke="#484848" stroke-width="1.4" />
<polygon points="386.60,511.40 384.65,497.60 388.55,497.60" fill="#0d0d0d"/>
<polygon points="386.60,537.00 388.55,550.80 384.65,550.80" fill="#0d0d0d"/>
<text transform="translate(382.70,474.80) rotate(-90)" text-anchor="middle" font-size="20" fill="#2c2c2c" stroke="#2c2c2c" stroke-width="0.12" >38.3</text>
</g>
<g id="shaft">
<defs><pattern id="h1" width="6.2" height="6.2" patternUnits="userSpaceOnUse" patternTransform="rotate(45)"><rect width="6.2" height="6.2" fill="#fff"/><rect x="0" y="0" width="1.7" height="6.2" fill="#151515"/></pattern><pattern id="h2" width="3.4" height="3.4" patternUnits="userSpaceOnUse" patternTransform="rotate(-45)"><rect width="3.4" height="3.4" fill="#fff"/><rect x="0" y="0" width="1.7" height="3.4" fill="#111"/></pattern></defs>
<line x1="518.50" y1="419.40" x2="518.50" y2="504.00" stroke="#484848" stroke-width="1.4" />
<line x1="613.50" y1="419.40" x2="613.50" y2="504.00" stroke="#484848" stroke-width="1.4" />
<line x1="518.60" y1="429.50" x2="613.80" y2="429.50" stroke="#484848" stroke-width="1.4" />
<polygon points="518.60,429.40 532.40,427.45 532.40,431.35" fill="#0d0d0d"/>
<polygon points="613.80,429.40 600.00,431.35 600.00,427.45" fill="#0d0d0d"/>
<text transform="translate(567.60,423.00) rotate(0)" text-anchor="middle" font-size="20" fill="#2c2c2c" stroke="#2c2c2c" stroke-width="0.12" textLength="31.2" lengthAdjust="spacingAndGlyphs" >140</text>
<line x1="549.50" y1="448.00" x2="549.50" y2="505.00" stroke="#484848" stroke-width="1.4" />
<line x1="583.50" y1="448.00" x2="583.50" y2="505.00" stroke="#484848" stroke-width="1.4" />
<line x1="493.00" y1="457.50" x2="639.00" y2="457.50" stroke="#484848" stroke-width="1.4" />
<polygon points="518.60,457.40 504.80,459.35 504.80,455.45" fill="#0d0d0d"/>
<polygon points="551.00,457.40 564.80,455.45 564.80,459.35" fill="#0d0d0d"/>
<polygon points="581.40,457.40 567.60,459.35 567.60,455.45" fill="#0d0d0d"/>
<polygon points="613.80,457.40 627.60,455.45 627.60,459.35" fill="#0d0d0d"/>
<text transform="translate(533.50,451.00) rotate(0)" text-anchor="middle" font-size="20" fill="#2c2c2c" stroke="#2c2c2c" stroke-width="0.12" >45</text>
<text transform="translate(598.50,451.00) rotate(0)" text-anchor="middle" font-size="20" fill="#2c2c2c" stroke="#2c2c2c" stroke-width="0.12" >45</text>
<rect x="556.7" y="472" width="19.5" height="107" fill="#fff" stroke="none"/>
<rect x="557.4" y="473" width="18" height="11.5" fill="url(#h2)"/>
<rect x="557.4" y="566.5" width="18" height="11.5" fill="url(#h2)"/>
<line x1="560.60" y1="484.50" x2="560.60" y2="502.00" stroke="#7a7a7a" stroke-width="1.8" />
<line x1="560.60" y1="548.00" x2="560.60" y2="566.50" stroke="#7a7a7a" stroke-width="1.8" />
<line x1="563.40" y1="484.50" x2="563.40" y2="502.00" stroke="#7a7a7a" stroke-width="1.8" />
<line x1="563.40" y1="548.00" x2="563.40" y2="566.50" stroke="#7a7a7a" stroke-width="1.8" />
<line x1="569.40" y1="484.50" x2="569.40" y2="502.00" stroke="#7a7a7a" stroke-width="1.8" />
<line x1="569.40" y1="548.00" x2="569.40" y2="566.50" stroke="#7a7a7a" stroke-width="1.8" />
<line x1="572.20" y1="484.50" x2="572.20" y2="502.00" stroke="#7a7a7a" stroke-width="1.8" />
<line x1="572.20" y1="548.00" x2="572.20" y2="566.50" stroke="#7a7a7a" stroke-width="1.8" />
<path d="M560,501 L574,485 M559,566 L573,550" stroke="#333" stroke-width="2" fill="none" />
<path d="M556.7,502 V473.2 Q556.7,472 558,472 H575 Q576.2,472 576.2,473.2 V502 M556.7,548 V577.8 Q556.7,579 558,579 H575 Q576.2,579 576.2,577.8 V548" stroke="#0d0d0d" stroke-width="2.4" fill="none" />
<rect x="518.6" y="504.4" width="95.19999999999993" height="6.6" fill="url(#h1)"/>
<rect x="518.6" y="537.6" width="95.19999999999993" height="8.4" fill="url(#h1)"/>
<rect x="539.3" y="501.5" width="54.9" height="7" fill="url(#h1)"/>
<rect x="539.3" y="541.8" width="54.9" height="7.2" fill="url(#h1)"/>
<rect x="551" y="508.4" width="31.4" height="33.4" fill="#fff"/>
<line x1="520.00" y1="513.00" x2="550.00" y2="513.00" stroke="#8a8a8a" stroke-width="2.8" />
<line x1="583.00" y1="513.00" x2="612.60" y2="513.00" stroke="#8a8a8a" stroke-width="2.8" />
<line x1="520.00" y1="537.50" x2="550.60" y2="537.50" stroke="#484848" stroke-width="1.4" />
<line x1="582.60" y1="537.50" x2="612.60" y2="537.50" stroke="#484848" stroke-width="1.4" />
<line x1="550.60" y1="508.50" x2="582.60" y2="508.50" stroke="#484848" stroke-width="1.4" />
<line x1="550.60" y1="541.50" x2="582.60" y2="541.50" stroke="#484848" stroke-width="1.4" />
<line x1="550.50" y1="508.40" x2="550.50" y2="541.70" stroke="#444" stroke-width="1.4" />
<line x1="553.50" y1="508.40" x2="553.50" y2="541.70" stroke="#444" stroke-width="1.4" />
<line x1="580.50" y1="508.40" x2="580.50" y2="541.70" stroke="#444" stroke-width="1.4" />
<line x1="582.50" y1="508.40" x2="582.50" y2="541.70" stroke="#444" stroke-width="1.4" />
<path d="M539.3,504.6 H521 Q518.6,504.6 518.6,507 V543.6 Q518.6,546 521,546 H539.3 M594.2,504.6 H611.4 Q613.8,504.6 613.8,507 V543.6 Q613.8,546 611.4,546 H594.2" stroke="#0d0d0d" stroke-width="2.6" fill="none" />
<path d="M539.3,505 V501.6 H557 M576,501.6 H594.2 V505 M539.3,545.6 V549 H557 M576,549 H594.2 V545.6" stroke="#0d0d0d" stroke-width="2.4" fill="none" />
<line x1="511.00" y1="525.50" x2="619.50" y2="525.50" stroke="#484848" stroke-width="1.4" stroke-dasharray="22 3 2.5 3"/>
<line x1="566.50" y1="466.50" x2="566.50" y2="586.00" stroke="#484848" stroke-width="1.4" stroke-dasharray="18 3 2.5 3"/>
<line x1="615.00" y1="536.50" x2="673.00" y2="536.50" stroke="#484848" stroke-width="1.4" />
<line x1="663.50" y1="485.00" x2="663.50" y2="536.60" stroke="#484848" stroke-width="1.4" />
<polygon points="663.00,536.60 661.05,522.80 664.95,522.80" fill="#0d0d0d"/>
<text transform="translate(658.40,498.60) rotate(-90)" text-anchor="middle" font-size="20" fill="#2c2c2c" stroke="#2c2c2c" stroke-width="0.12" >35</text>
</g>
<rect x="186" y="235.9" width="750" height="0.9" fill="#fff" opacity="0.55"/>
</g>
</svg>
</body></html>
